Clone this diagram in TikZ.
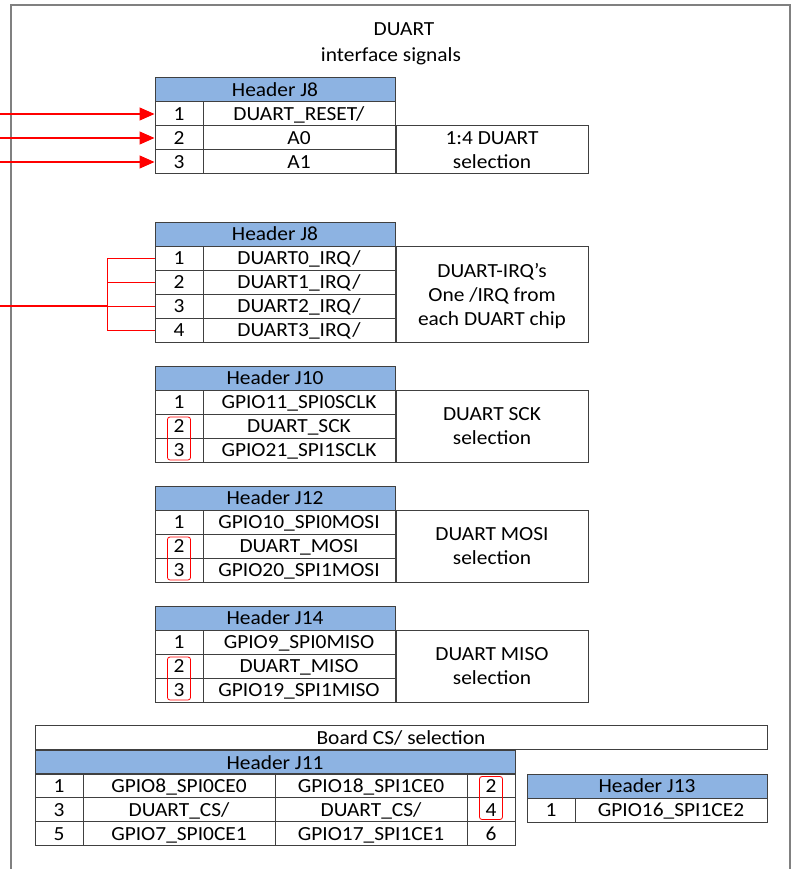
\documentclass[tikz,border=0pt]{standalone}
\usepackage{fontspec}
\setmainfont{Carlito}[FakeStretch=1.07]
\usetikzlibrary{arrows.meta,positioning}
\definecolor{hdrblue}{RGB}{141,179,226}

\newcommand{\pinHeader}[4]{%
  \begin{scope}[shift={(0,#1)}]
    \node[hdrcell,minimum width=240pt] (#2h) at (275,12) {#3};
    \foreach \sig [count=\i] in {#4} {
      \node[cell,minimum width=48pt] (#2p\i) at (179,{12+24*\i}) {\i};
      \node[cell,minimum width=192pt] (#2s\i) at (299,{12+24*\i}) {\sig};
    }
  \end{scope}}

\begin{document}
\begin{tikzpicture}[x=1pt,y=-1pt,
  plain/.style={inner sep=0pt,text height=13pt,text depth=0pt,font=\fontsize{20}{24}\selectfont},
  cell/.style={plain,draw=black!75,line width=1pt,minimum height=24pt},
  hdrcell/.style={cell,fill=hdrblue},
  descbox/.style={draw=black!75,line width=1pt,inner sep=0pt,text depth=0pt,align=center,
    font=\fontsize{20}{24}\selectfont,minimum width=192pt,anchor=north west},
  selbox/.style={draw=red,rounded corners=2.5pt,line width=0.8pt,minimum width=23pt,minimum height=43pt,inner sep=0pt},
  sigarrow/.style={red,line width=1.2pt,-{Triangle[length=15pt,width=13pt]}},
  irqmain/.style={red,line width=1.3pt},
  irqline/.style={red,line width=0.9pt},
  frame/.style={draw=black!50,line width=1.3pt}]
  \useasboundingbox (0,0) rectangle (792,869);
  \draw[frame] (11,869) -- (11,5) -- (790,5) -- (790,869);
  \coordinate (edge) at (0,0);

  \node[plain] (ttlA) at (404,29) {DUART};
  \node[plain] (ttlB) at (391,55) {interface signals};

  % reset and address pins
  \pinHeader{78}{rstJ8}{Header J8}{{DUART\_RESET/},A0,A1}
  \node[descbox,minimum height=48pt] (rstJ8d) at (rstJ8s2.north east) {1:4 DUART\\selection};
  \foreach \i in {1,2,3}
    \draw[sigarrow] (rstJ8p\i.west -| edge) -- (rstJ8p\i.west);

  % interrupt pins
  \pinHeader{222}{irqJ8}{Header J8}{{DUART0\_IRQ/},{DUART1\_IRQ/},{DUART2\_IRQ/},{DUART3\_IRQ/}}
  \node[descbox,minimum height=96pt] (irqJ8d) at (irqJ8s1.north east) {DUART-IRQ's\\One /IRQ from\\each DUART chip};
  \coordinate (irqIn) at (0,306);
  \coordinate (irqBus) at (107,306);
  \draw[irqmain] (irqIn) -- (irqBus);
  \foreach \i in {1,...,4}
    \draw[irqline] (irqJ8p\i.west) -| (irqBus);

  % SPI jumpers
  \pinHeader{366}{sckJ10}{Header J10}{{GPIO11\_SPI0SCLK},{DUART\_SCK},{GPIO21\_SPI1SCLK}}
  \node[descbox,minimum height=72pt] (sckJ10d) at (sckJ10s1.north east) {DUART SCK\\selection};
  \node[selbox] (sckJ10sel) at (sckJ10p2.south) {};

  \pinHeader{486}{mosiJ12}{Header J12}{{GPIO10\_SPI0MOSI},{DUART\_MOSI},{GPIO20\_SPI1MOSI}}
  \node[descbox,minimum height=72pt] (mosiJ12d) at (mosiJ12s1.north east) {DUART MOSI\\selection};
  \node[selbox] (mosiJ12sel) at (mosiJ12p2.south) {};

  \pinHeader{606}{misoJ14}{Header J14}{{GPIO9\_SPI0MISO},{DUART\_MISO},{GPIO19\_SPI1MISO}}
  \node[descbox,minimum height=72pt] (misoJ14d) at (misoJ14s1.north east) {DUART MISO\\selection};
  \node[selbox] (misoJ14sel) at (misoJ14p2.south) {};

  % chip select
  \node[cell,minimum width=732pt] (csSel) at (401,737.5) {Board CS/ selection};
  \node[hdrcell,minimum width=480pt,anchor=north west] (csJ11h) at (csSel.south west) {Header J11};
  \foreach \lsig/\rsig [count=\i] in {{GPIO8\_SPI0CE0}/{GPIO18\_SPI1CE0},{DUART\_CS/}/{DUART\_CS/},{GPIO7\_SPI0CE1}/{GPIO17\_SPI1CE1}} {
    \pgfmathtruncatemacro{\odd}{2*\i-1}
    \pgfmathtruncatemacro{\even}{2*\i}
    \node[cell,minimum width=48pt] (csJ11a\i) at (59,{761.5+24*\i}) {\odd};
    \node[cell,minimum width=192pt] (csJ11b\i) at (179,{761.5+24*\i}) {\lsig};
    \node[cell,minimum width=192pt] (csJ11c\i) at (371,{761.5+24*\i}) {\rsig};
    \node[cell,minimum width=48pt] (csJ11d\i) at (491,{761.5+24*\i}) {\even};
  }
  \node[selbox] (csJ11sel) at (csJ11d1.south) {};

  \node[hdrcell,minimum width=240pt] (csJ13h) at (647,786) {Header J13};
  \node[cell,minimum width=48pt] (csJ13p1) at (551,810) {1};
  \node[cell,minimum width=192pt] (csJ13s1) at (671,810) {GPIO16\_SPI1CE2};
\end{tikzpicture}
\end{document}
